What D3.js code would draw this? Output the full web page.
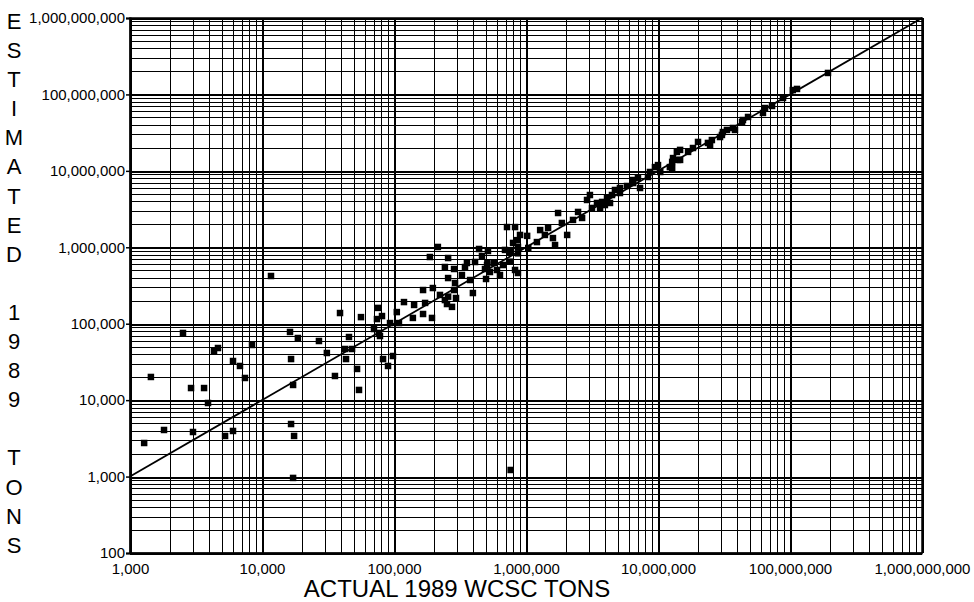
<!DOCTYPE html>
<html>
<head>
<meta charset="utf-8">
<script src="https://cdn.jsdelivr.net/npm/d3@7"></script>
<style>
  body { margin: 0; background: #fff; }
  text { font-family: "Liberation Sans", Arial, Helvetica, sans-serif; fill: #000; }
</style>
</head>
<body>
<script>
// values (tons)
var actualTons = [
  1280, 1440, 1810, 2520, 2900, 3000, 3640, 3900, 4330, 4640,
  5250, 6030, 6030, 6810, 7430, 8400, 11700, 16300, 18700, 16600,
  17200, 16600, 17500, 17200, 27000, 31000, 35700, 39000, 45600, 43300,
  42600, 48100, 52500, 54300, 56200, 75700, 81100, 74300, 70500, 76900,
  78300, 82600, 90100, 98200, 93300, 105000, 109000, 119000, 139000, 142000,
  166000, 172000, 166000, 194000, 197000, 187000, 215000, 223000, 243000, 252000,
  275000, 295000, 285000, 290000, 257000, 243000, 257000, 285000, 327000, 345000,
  357000, 377000, 396000, 411000, 441000, 464000, 515000, 507000, 498000, 533000,
  573000, 489000, 603000, 635000, 670000, 693000, 718000, 826000, 757000, 798000,
  869000, 826000, 869000, 765000, 851000, 901000, 869000, 757000, 257000, 510000,
  1020000, 1040000, 1210000, 1280000, 1390000, 1470000, 1600000, 1660000, 1750000, 1870000,
  2050000, 2270000, 2660000, 2480000, 2900000, 3050000, 3160000, 3640000, 3450000, 3770000,
  3960000, 4110000, 4330000, 4480000, 4720000, 5150000, 5150000, 5820000, 6470000, 6470000,
  7310000, 7050000, 8400000, 8690000, 9480000, 10400000, 10000000, 12300000, 12800000, 12800000,
  14200000, 14700000, 13900000, 14700000, 13000000, 16900000, 18400000, 20100000, 23900000, 25600000,
  24800000, 30500000, 29500000, 33300000, 31000000, 37000000, 38300000, 43300000, 44000000, 48100000,
  62400000, 64700000, 73100000, 88500000, 105000000, 113000000, 194000000
];

var estimatedTons = [
  2750, 20100, 4070, 75700, 14400, 3830, 14400, 9180, 44000, 48100,
  3400, 32500, 3950, 28000, 19500, 52700, 421000, 78000, 65000, 34500,
  15800, 4870, 3400, 960, 59400, 41400, 20700, 138000, 67000, 34500,
  46700, 46700, 25600, 13600, 122000, 161000, 126000, 115000, 85300, 75700,
  69000, 34500, 28000, 37800, 102000, 142000, 102000, 192000, 119000, 176000,
  134000, 187000, 276000, 119000, 293000, 746000, 1010000, 238000, 204000, 181000,
  166000, 217000, 276000, 341000, 724000, 552000, 396000, 520000, 434000, 552000,
  623000, 373000, 252000, 642000, 950000, 769000, 894000, 586000, 385000, 475000,
  623000, 520000, 505000, 434000, 586000, 923000, 1840000, 1840000, 867000, 1140000,
  1010000, 505000, 461000, 1220, 1240000, 1450000, 834000, 648000, 226000, 625000,
  1410000, 979000, 1170000, 1680000, 1450000, 1790000, 1320000, 1070000, 2810000, 2080000,
  1450000, 2280000, 2420000, 2900000, 4160000, 4830000, 3270000, 3270000, 3800000, 3920000,
  3570000, 4420000, 3800000, 4830000, 5620000, 5130000, 5970000, 6340000, 6930000, 7590000,
  5970000, 8070000, 8310000, 9670000, 11200000, 9670000, 11900000, 11200000, 13100000, 10900000,
  13900000, 18800000, 17700000, 13900000, 14700000, 17700000, 19900000, 23900000, 23200000, 25300000,
  21800000, 29500000, 27700000, 34300000, 32200000, 36400000, 34300000, 43600000, 46300000, 50700000,
  57200000, 66400000, 70600000, 89800000, 114000000, 118000000, 191000000
];

var xDecades = [1e3, 1e4, 1e5, 1e6, 1e7, 1e8, 1e9];
var yDecades = [1e2, 1e3, 1e4, 1e5, 1e6, 1e7, 1e8, 1e9];
var equalLine = [1e3, 1e9];   // estimated = actual

var yTitle = "ESTIMATED 1989 TONS";
var xTitle = "ACTUAL 1989 WCSC TONS";

// plot box (don't call these top/left - window.top is taken)
var plotL = 130, plotR = 922, plotT = 18, plotB = 553;

var svg = d3.select("body").append("svg")
            .attr("width", 974)
            .attr("height", 602);

var x = d3.scaleLog().domain([1e3, 1e9]).range([plotL, plotR]);
var y = d3.scaleLog().domain([1e2, 1e9]).range([plotB, plotT]);

function isDecade(v) {
  return Math.abs(Math.log10(v) - Math.round(Math.log10(v))) < 1e-9;
}

// grid: every 1..9 multiple of each decade
var grid = svg.append("g").attr("shape-rendering", "crispEdges");

grid.selectAll("line.vx")
    .data(x.ticks())
    .enter()
    .append("line")
    .attr("x1", function(d) { return Math.round(x(d)) + 0.5; })
    .attr("x2", function(d) { return Math.round(x(d)) + 0.5; })
    .attr("y1", plotT)
    .attr("y2", plotB)
    .attr("stroke", "#000")
    .attr("stroke-width", function(d) { return isDecade(d) ? 2 : 1; });

grid.selectAll("line.hy")
    .data(y.ticks())
    .enter()
    .append("line")
    .attr("x1", plotL)
    .attr("x2", plotR)
    .attr("y1", function(d) { return Math.round(y(d)) + 0.5; })
    .attr("y2", function(d) { return Math.round(y(d)) + 0.5; })
    .attr("stroke", "#000")
    .attr("stroke-width", function(d) { return isDecade(d) ? 2 : 1; });

// frame
svg.append("rect")
   .attr("x", plotL)
   .attr("y", plotT)
   .attr("width", plotR - plotL)
   .attr("height", plotB - plotT)
   .attr("fill", "none")
   .attr("stroke", "#000")
   .attr("stroke-width", 1.5);

// axes
var yAxis = svg.append("g")
               .attr("transform", "translate(" + plotL + ",0)")
               .call(d3.axisLeft(y).tickValues(yDecades).tickFormat(d3.format(",")).tickSize(4).tickPadding(1));

var xAxis = svg.append("g")
               .attr("transform", "translate(0," + plotB + ")")
               .call(d3.axisBottom(x).tickValues(xDecades).tickFormat(d3.format(",")).tickSize(0).tickPadding(10));

[yAxis, xAxis].forEach(function(a) {
  a.select(".domain").attr("stroke", "#000").attr("stroke-width", 2);
  a.selectAll(".tick line").attr("stroke", "#000").attr("stroke-width", 1.5);
  a.selectAll(".tick text")
   .attr("font-family", "'Liberation Sans', Arial, sans-serif")
   .attr("font-size", 15)
   .attr("fill", "#000");
});

// 45 degree reference line
var line = d3.line()
             .x(function(d) { return x(d); })
             .y(function(d) { return y(d); });

svg.append("path")
   .datum(equalLine)
   .attr("d", line)
   .attr("fill", "none")
   .attr("stroke", "#000")
   .attr("stroke-width", 1.8);

// points
var pts = actualTons.map(function(a, i) { return [a, estimatedTons[i]]; });
var s = 6.5;

svg.selectAll("rect.pt")
   .data(pts)
   .enter()
   .append("rect")
   .attr("class", "pt")
   .attr("x", function(d) { return x(d[0]) - s / 2; })
   .attr("y", function(d) { return y(d[1]) - s / 2; })
   .attr("width", s)
   .attr("height", s)
   .attr("fill", "#000");

// titles
svg.selectAll("text.vt")
   .data(yTitle.split(""))
   .enter()
   .append("text")
   .attr("class", "vt")
   .attr("x", 14)
   .attr("y", function(d, i) { return 21 + i * 29.1; })
   .attr("dy", "0.36em")
   .attr("text-anchor", "middle")
   .attr("font-size", 22)
   .text(function(d) { return d; });

svg.append("text")
   .attr("x", 457)
   .attr("y", 597)
   .attr("text-anchor", "middle")
   .attr("font-size", 24)
   .text(xTitle);
</script>
</body>
</html>
